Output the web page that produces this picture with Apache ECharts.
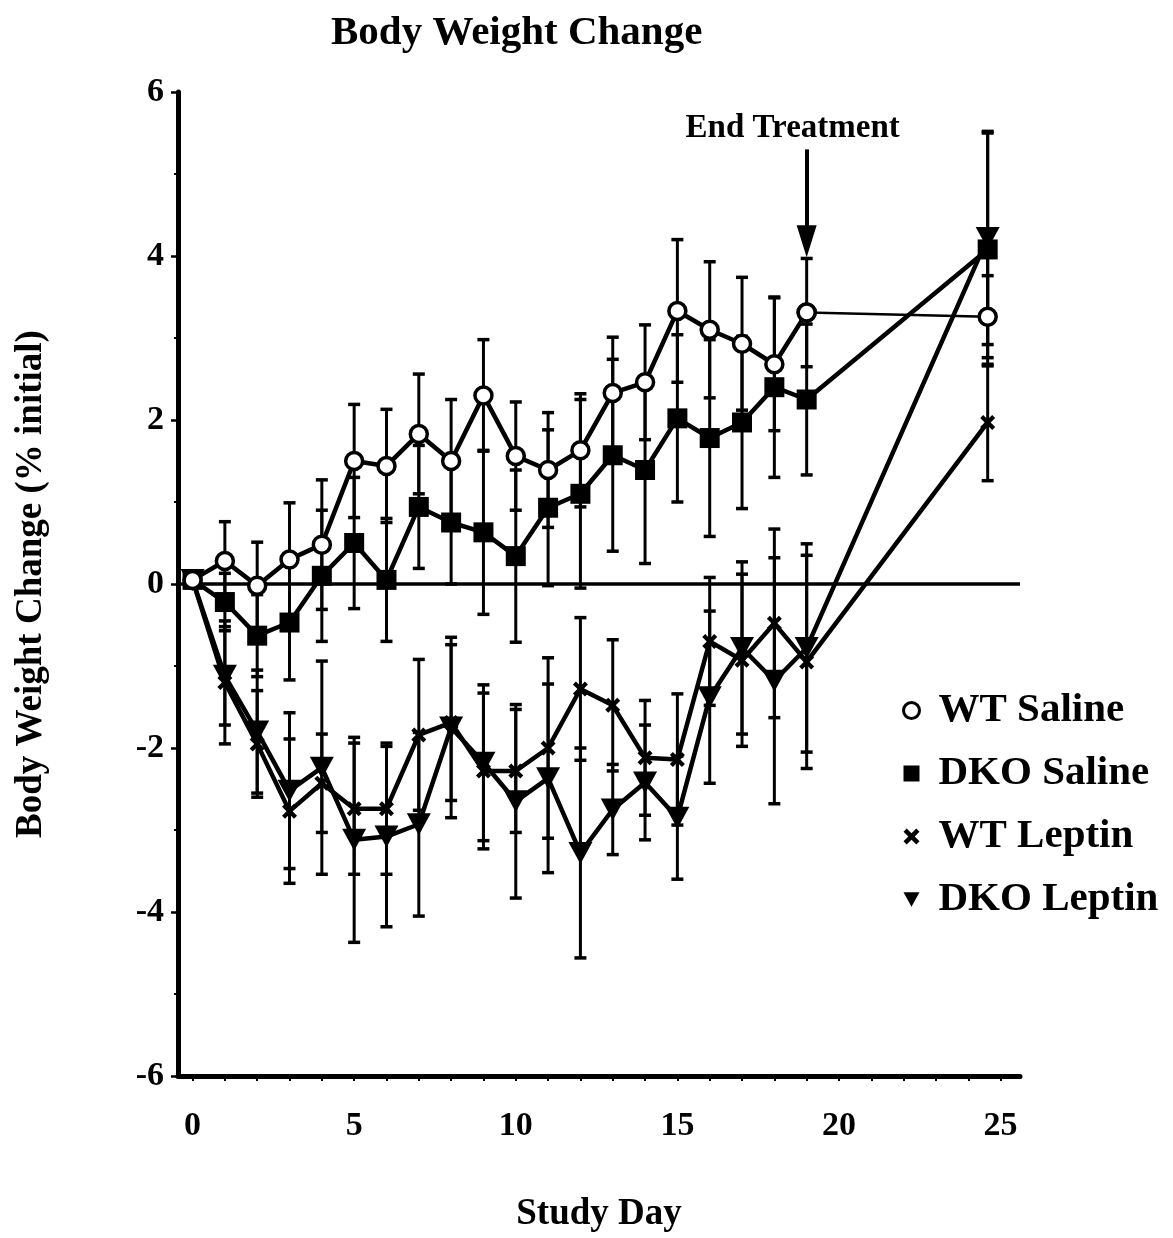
<!DOCTYPE html>
<html>
<head>
<meta charset="utf-8">
<script src="https://cdn.jsdelivr.net/npm/echarts@6/dist/echarts.min.js"></script>
<style>
  html, body { margin: 0; padding: 0; background: #fff; }
  #chart { width: 1173px; height: 1238px; }
</style>
</head>
<body>
<div id="chart"></div>
<script>
const FONT = "'Liberation Serif', 'Times New Roman', serif";

// study days (last point is the post-treatment follow-up)
const days = [0, 1, 2, 3, 4, 5, 6, 7, 8, 9, 10, 11, 12, 13, 14, 15, 16, 17, 18, 19, 24.6];

const wtSaline = [0.05, 0.28, -0.02, 0.30, 0.48, 1.50, 1.44, 1.83, 1.50, 2.30, 1.56, 1.39, 1.63, 2.33, 2.46, 3.33, 3.10, 2.93, 2.68, 3.31, 3.26];
const wtSalineSem = [0, 0.48, 0.53, 0.69, 0.79, 0.69, 0.69, 0.73, 0.75, 0.68, 0.66, 0.70, 0.69, 0.68, 0.70, 0.87, 0.83, 0.81, 0.81, 0.66, 0.50];

const dkoSaline = [0.05, -0.22, -0.63, -0.47, 0.10, 0.50, 0.05, 0.94, 0.75, 0.63, 0.34, 0.93, 1.10, 1.57, 1.39, 2.02, 1.78, 1.97, 2.40, 2.25, 4.08];
const dkoSalineSem = [0, 0.35, 0.50, 0.70, 0.80, 0.80, 0.75, 0.75, 0.75, 1.00, 1.05, 0.95, 1.15, 1.17, 1.14, 1.02, 1.20, 1.05, 1.10, 0.92, 1.42];

const wtLeptin = [0.05, -1.20, -1.95, -2.77, -2.43, -2.74, -2.74, -1.84, -1.69, -2.28, -2.28, -2.00, -1.28, -1.48, -2.12, -2.14, -0.70, -0.93, -0.48, -0.95, 1.97];
const wtLeptinSem = [0, 0.75, 0.65, 0.88, 0.60, 0.80, 0.80, 0.92, 0.95, 0.95, 0.75, 1.10, 0.87, 0.80, 0.70, 0.80, 0.78, 1.05, 1.15, 1.30, 0.71];

const dkoLeptin = [0.05, -1.12, -1.80, -2.52, -2.24, -3.12, -3.08, -2.93, -1.75, -2.18, -2.65, -2.37, -3.28, -2.75, -2.42, -2.85, -1.38, -0.78, -1.18, -0.78, 4.22];
const dkoLeptinSem = [0, 0.60, 0.75, 0.95, 1.30, 1.25, 1.10, 1.12, 1.10, 0.95, 1.18, 1.15, 1.28, 0.55, 0.70, 0.75, 1.05, 1.05, 1.50, 1.27, 1.30];

const xTicks = [0, 1, 2, 3, 4, 5, 6, 7, 8, 9, 10, 11, 12, 13, 14, 15, 16, 17, 18, 19, 20, 21, 22, 23, 24, 25];
const xLabels = [0, 5, 10, 15, 20, 25];

const treatmentEndDay = 19;

const X_PATH = 'path://M0,2 L2,0 L5,3 L8,0 L10,2 L7,5 L10,8 L8,10 L5,7 L2,10 L0,8 L3,5 Z';
const TRI_PATH = 'path://M0,0 L10,0 L5,9 Z';

const pairs = (vals) => days.map((d, i) => [d, vals[i]]);

function errorBars(name, vals, sems) {
  return {
    type: 'custom',
    name: name + ' SEM',
    silent: true,
    z: 1,
    data: days.map((d, i) => [d, vals[i] - sems[i], vals[i] + sems[i]]),
    encode: { x: 0, y: [1, 2] },
    renderItem(params, api) {
      const x = api.value(0);
      const lo = api.coord([x, api.value(1)]);
      const hi = api.coord([x, api.value(2)]);
      if (Math.abs(hi[1] - lo[1]) < 1) return null;
      const w = 6;
      const style = { stroke: '#000', lineWidth: 3.5 };
      return {
        type: 'group',
        children: [
          { type: 'line', shape: { x1: lo[0], y1: lo[1], x2: hi[0], y2: hi[1] }, style: { stroke: '#000', lineWidth: 3 } },
          { type: 'line', shape: { x1: lo[0] - w, y1: lo[1], x2: lo[0] + w, y2: lo[1] }, style },
          { type: 'line', shape: { x1: hi[0] - w, y1: hi[1], x2: hi[0] + w, y2: hi[1] }, style }
        ]
      };
    }
  };
}

const lineBase = {
  type: 'line',
  z: 3,
  silent: true,
  showAllSymbol: true,
  lineStyle: { color: '#000', width: 4.5 }
};

const chart = echarts.init(document.getElementById('chart'));

const option = {
  animation: false,
  backgroundColor: '#fff',
  title: {
    text: 'Body Weight Change',
    left: 326,
    top: 8,
    textStyle: { fontFamily: FONT, fontWeight: 'bold', fontSize: 41, color: '#000' }
  },
  legend: {
    orient: 'vertical',
    left: 897,
    top: 685,
    itemWidth: 16,
    itemHeight: 16,
    itemGap: 22,
    selectedMode: false,
    textStyle: { fontFamily: FONT, fontWeight: 'bold', fontSize: 41, color: '#000', padding: [0, 0, 0, 14] },
    data: [
      { name: 'WT Saline', icon: 'circle', itemStyle: { color: '#fff', borderColor: '#000', borderWidth: 3 } },
      { name: 'DKO Saline', icon: 'rect', itemStyle: { color: '#000', borderWidth: 0 } },
      { name: 'WT Leptin', icon: X_PATH, itemStyle: { color: '#000', borderWidth: 0 } },
      { name: 'DKO Leptin', icon: TRI_PATH, itemStyle: { color: '#000', borderWidth: 0 } }
    ]
  },
  grid: { left: 178, right: 153, top: 92, bottom: 156 },
  xAxis: {
    type: 'value',
    min: -0.45,
    max: 25.6,
    name: 'Study Day',
    nameLocation: 'middle',
    nameGap: 120,
    nameTextStyle: { fontFamily: FONT, fontWeight: 'bold', fontSize: 37, color: '#000' },
    axisLine: { show: true, onZero: false, lineStyle: { color: '#000', width: 5 } },
    axisTick: { show: true, length: 5, customValues: xTicks, lineStyle: { color: '#000', width: 2 } },
    axisLabel: {
      customValues: xLabels,
      margin: 33,
      fontFamily: FONT, fontWeight: 'bold', fontSize: 34, color: '#000'
    },
    splitLine: { show: false }
  },
  yAxis: {
    type: 'value',
    min: -6,
    max: 6,
    interval: 2,
    name: 'Body Weight Change (% initial)',
    nameLocation: 'middle',
    nameGap: 128,
    nameTextStyle: { fontFamily: FONT, fontWeight: 'bold', fontSize: 37, color: '#000' },
    axisLine: { show: true, onZero: false, lineStyle: { color: '#000', width: 5 } },
    axisTick: { show: true, length: 7, lineStyle: { color: '#000', width: 2.5 } },
    minorTick: { show: true, splitNumber: 2, length: 4, lineStyle: { color: '#000', width: 2 } },
    axisLabel: { margin: 14, fontFamily: FONT, fontWeight: 'bold', fontSize: 34, color: '#000', padding: [8, 0, 0, 0] },
    splitLine: { show: false }
  },
  series: [
    errorBars('WT Saline', wtSaline, wtSalineSem),
    errorBars('DKO Saline', dkoSaline, dkoSalineSem),
    errorBars('WT Leptin', wtLeptin, wtLeptinSem),
    errorBars('DKO Leptin', dkoLeptin, dkoLeptinSem),
    {
      ...lineBase,
      name: 'DKO Saline',
      data: pairs(dkoSaline),
      symbol: 'rect',
      symbolSize: 20,
      itemStyle: { color: '#000' },
      markLine: {
        silent: true,
        symbol: 'none',
        label: { show: false },
        lineStyle: { color: '#000', width: 3.5, type: 'solid' },
        data: [{ yAxis: 0 }]
      }
    },
    {
      ...lineBase,
      name: 'WT Leptin',
      data: pairs(wtLeptin),
      symbol: X_PATH,
      symbolSize: 15,
      itemStyle: { color: '#000' }
    },
    {
      ...lineBase,
      name: 'DKO Leptin',
      data: pairs(dkoLeptin),
      symbol: TRI_PATH,
      symbolSize: [24, 22],
      itemStyle: { color: '#000' }
    },
    {
      ...lineBase,
      name: 'WT Saline tail',
      z: 4,
      data: pairs(wtSaline).slice(-2),
      symbol: 'circle',
      symbolSize: 17,
      itemStyle: { color: '#fff', borderColor: '#000', borderWidth: 3.5 },
      lineStyle: { color: '#000', width: 2.5 }
    },
    {
      ...lineBase,
      name: 'WT Saline',
      z: 5,
      data: pairs(wtSaline).slice(0, -1),
      symbol: 'circle',
      symbolSize: 17,
      itemStyle: { color: '#fff', borderColor: '#000', borderWidth: 3.5 },
      markLine: {
        silent: true,
        symbol: ['none', 'triangle'],
        symbolSize: [20, 32],
        lineStyle: { color: '#000', width: 4, type: 'solid' },
        label: {
          show: true,
          position: 'start',
          formatter: 'End Treatment',
          distance: 4,
          offset: [-14, 0],
          fontFamily: FONT, fontWeight: 'bold', fontSize: 33, color: '#000'
        },
        data: [[{ coord: [treatmentEndDay, 5.3] }, { coord: [treatmentEndDay, 4.18] }]]
      }
    }
  ]
};

chart.setOption(option);
</script>
</body>
</html>
